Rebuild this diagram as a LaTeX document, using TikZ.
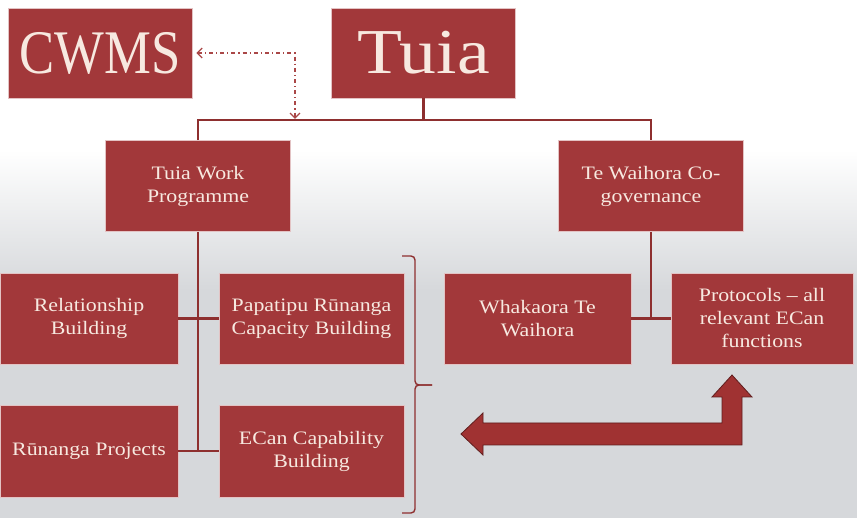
\documentclass[tikz,border=0pt]{standalone}
\usepackage{fontspec}
\setmainfont[FakeStretch=1.15]{Liberation Serif}
\newfontfamily\narrowfont[FakeStretch=0.85]{Liberation Serif}
\usetikzlibrary{arrows.meta}

\definecolor{boxred}{RGB}{162,56,58}
\definecolor{linkred}{RGB}{142,47,47}
\definecolor{arrowred}{RGB}{160,50,50}
\definecolor{boxtext}{RGB}{247,233,224}
\definecolor{bggrey}{RGB}{214,216,219}

\begin{document}
\begin{tikzpicture}[x = 1pt, y = -1pt, node distance = 132.5pt,
  box/.style = {rectangle, fill = boxred, draw = white!70!boxred, line width = 0.6pt,
    text = boxtext, align = center, minimum width = 185pt, minimum height = 91pt,
    font = \fontsize{19}{23}\selectfont},
  topbox/.style = {box, minimum width = 184pt, minimum height = 90pt,
    font = \fontsize{64}{70}\selectfont},
  link/.style = {draw = linkred, line width = 2.2pt},
  dashlink/.style = {draw = arrowred!90!white, line width = 1.3pt,
    dash pattern = on 4pt off 3pt on 1.2pt off 3pt,
    {Straight Barb[length = 5pt, width = 10pt]}-{Straight Barb[length = 5pt, width = 10pt]}},
  bracket/.style = {draw = linkred, line width = 1.4pt, rounded corners = 4pt}]

  \useasboundingbox (0,0) rectangle (857,518);
  \fill [white] (0,0) rectangle (857,150);
  \shade [top color = white, bottom color = bggrey] (0,150) rectangle (857,290);
  \fill [bggrey] (0,290) rectangle (857,518);

  \node [topbox, font = \narrowfont\fontsize{62}{70}\selectfont] (cwms) at (100,53) {CWMS};
  \node [topbox, right of = cwms, node distance = 323.5pt] (tuia) {Tuia};

  \node [box, below of = cwms, node distance = 133pt, xshift = 98pt] (work) {Tuia Work\\Programme};
  \node [box, right of = work, node distance = 453pt] (cogov) {Te Waihora Co-\\governance};

  \node [box, below of = work, xshift = 113.5pt] (capacity) {Papatipu Rūnanga\\Capacity Building};
  \node [box, left of = capacity, node distance = 222.5pt, minimum width = 178pt] (relation)
  {Relationship\\Building};
  \node [box, below of = capacity, minimum height = 92pt] (ecan) {ECan Capability\\Building};
  \node [box, below of = relation, minimum width = 178pt, minimum height = 92pt] (projects)
  {Rūnanga Projects};

  \node [box, below of = cogov, xshift = -113.5pt, minimum width = 187pt] (whakaora)
  {Whakaora Te\\Waihora};
  \node [box, right of = whakaora, node distance = 224.5pt, minimum width = 182pt] (protocols)
  {Protocols – all\\relevant ECan\\functions};

  \draw [link] (tuia.south) -- ++(0,22) coordinate (fork);
  \draw [link] (work.north) |- (fork) -| (cogov.north);
  \draw [link] (work.south) -- (work.south |- projects.east);
  \draw [link] (relation.east) -- (capacity.west);
  \draw [link] (projects.east) -- (ecan.west);
  \draw [link] (cogov.south) -- (cogov.south |- whakaora.east);
  \draw [link] (whakaora.east) -- (protocols.west);

  \coordinate (meet) at (295,119);
  \draw [dashlink, shorten < = 4pt] (cwms.east) -| (meet);

  \draw [bracket] (402,256) -- (415,256) -- (415,385) -- (432,385);
  \draw [bracket] (402,513) -- (415,513) -- (415,385) -- (432,385);

  \filldraw [fill = arrowred, draw = arrowred!60!black, line width = 0.8pt]
  (461,434) -- (483,413) -- (483,423) -- (722,423) -- (722,397) -- (712,397)
  -- (732,375) -- (752,397) -- (742,397) -- (742,445) -- (483,445) -- (483,455)
  -- cycle;
\end{tikzpicture}
\end{document}
